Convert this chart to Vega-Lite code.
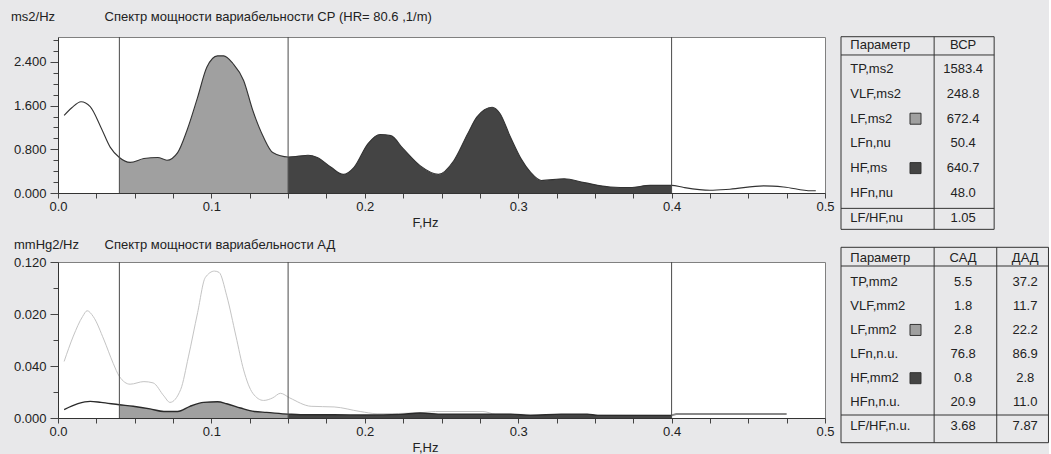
{
  "$schema": "https://vega.github.io/schema/vega-lite/v6.json",
  "background": "#e8e8ea",
  "padding": {"left": 10, "top": 10, "right": 0, "bottom": 0},
  "config": {
    "font": "Liberation Sans",
    "axis": {"labelFont": "Liberation Sans", "labelFontSize": 13, "labelColor": "#222", "titleFont": "Liberation Sans", "titleFontSize": 13, "titleFontWeight": "normal", "titleColor": "#222", "domainColor": "#333", "tickColor": "#444", "grid": false, "labelFlush": false},
    "text": {"font": "Liberation Sans", "fontSize": 13, "fill": "#222"}
  },
  "datasets": {
    "hrv": [
      {"f": 0.004, "v": 1.42, "b": "VLF"}, {"f": 0.009, "v": 1.56, "b": "VLF"}, {"f": 0.015, "v": 1.67, "b": "VLF"}, {"f": 0.021, "v": 1.58, "b": "VLF"}, {"f": 0.028, "v": 1.2, "b": "VLF"}, {"f": 0.034, "v": 0.84, "b": "VLF"}, {"f": 0.04, "v": 0.65, "b": "VLF"},
      {"f": 0.04, "v": 0.65, "b": "LF"}, {"f": 0.047, "v": 0.56, "b": "LF"}, {"f": 0.056, "v": 0.63, "b": "LF"}, {"f": 0.065, "v": 0.65, "b": "LF"}, {"f": 0.071, "v": 0.6, "b": "LF"}, {"f": 0.078, "v": 0.74, "b": "LF"}, {"f": 0.084, "v": 1.14, "b": "LF"}, {"f": 0.091, "v": 1.75, "b": "LF"}, {"f": 0.097, "v": 2.3, "b": "LF"}, {"f": 0.104, "v": 2.51, "b": "LF"}, {"f": 0.108, "v": 2.51, "b": "LF"}, {"f": 0.114, "v": 2.37, "b": "LF"}, {"f": 0.121, "v": 2.06, "b": "LF"}, {"f": 0.127, "v": 1.51, "b": "LF"}, {"f": 0.134, "v": 1.02, "b": "LF"}, {"f": 0.14, "v": 0.74, "b": "LF"}, {"f": 0.15, "v": 0.66, "b": "LF"},
      {"f": 0.15, "v": 0.66, "b": "HF"}, {"f": 0.156, "v": 0.67, "b": "HF"}, {"f": 0.163, "v": 0.69, "b": "HF"}, {"f": 0.169, "v": 0.65, "b": "HF"}, {"f": 0.178, "v": 0.47, "b": "HF"}, {"f": 0.186, "v": 0.34, "b": "HF"}, {"f": 0.193, "v": 0.47, "b": "HF"}, {"f": 0.202, "v": 0.9, "b": "HF"}, {"f": 0.21, "v": 1.07, "b": "HF"}, {"f": 0.217, "v": 1.05, "b": "HF"}, {"f": 0.225, "v": 0.81, "b": "HF"}, {"f": 0.236, "v": 0.5, "b": "HF"}, {"f": 0.248, "v": 0.34, "b": "HF"}, {"f": 0.258, "v": 0.59, "b": "HF"}, {"f": 0.267, "v": 1.08, "b": "HF"}, {"f": 0.273, "v": 1.39, "b": "HF"}, {"f": 0.283, "v": 1.57, "b": "HF"}, {"f": 0.288, "v": 1.46, "b": "HF"}, {"f": 0.295, "v": 1.02, "b": "HF"}, {"f": 0.302, "v": 0.62, "b": "HF"}, {"f": 0.308, "v": 0.38, "b": "HF"}, {"f": 0.315, "v": 0.23, "b": "HF"}, {"f": 0.33, "v": 0.26, "b": "HF"}, {"f": 0.343, "v": 0.19, "b": "HF"}, {"f": 0.36, "v": 0.11, "b": "HF"}, {"f": 0.373, "v": 0.1, "b": "HF"}, {"f": 0.386, "v": 0.14, "b": "HF"}, {"f": 0.4, "v": 0.14, "b": "HF"},
      {"f": 0.4, "v": 0.14, "b": "VHF"}, {"f": 0.408, "v": 0.1, "b": "VHF"}, {"f": 0.425, "v": 0.05, "b": "VHF"}, {"f": 0.438, "v": 0.07, "b": "VHF"}, {"f": 0.46, "v": 0.13, "b": "VHF"}, {"f": 0.473, "v": 0.11, "b": "VHF"}, {"f": 0.491, "v": 0.04, "b": "VHF"}, {"f": 0.494, "v": 0.04, "b": "VHF"}
    ],
    "sad": [
      {"f": 0.004, "v": 0.0064, "b": "VLF"}, {"f": 0.013, "v": 0.011, "b": "VLF"}, {"f": 0.021, "v": 0.0128, "b": "VLF"}, {"f": 0.028, "v": 0.012, "b": "VLF"}, {"f": 0.04, "v": 0.0102, "b": "VLF"},
      {"f": 0.04, "v": 0.0102, "b": "LF"}, {"f": 0.049, "v": 0.009, "b": "LF"}, {"f": 0.06, "v": 0.007, "b": "LF"}, {"f": 0.069, "v": 0.005, "b": "LF"}, {"f": 0.078, "v": 0.005, "b": "LF"}, {"f": 0.086, "v": 0.009, "b": "LF"}, {"f": 0.095, "v": 0.012, "b": "LF"}, {"f": 0.104, "v": 0.0125, "b": "LF"}, {"f": 0.11, "v": 0.011, "b": "LF"}, {"f": 0.119, "v": 0.0077, "b": "LF"}, {"f": 0.128, "v": 0.005, "b": "LF"}, {"f": 0.136, "v": 0.0043, "b": "LF"}, {"f": 0.15, "v": 0.003, "b": "LF"},
      {"f": 0.15, "v": 0.003, "b": "HF"}, {"f": 0.158, "v": 0.0025, "b": "HF"}, {"f": 0.18, "v": 0.0025, "b": "HF"}, {"f": 0.201, "v": 0.0023, "b": "HF"}, {"f": 0.223, "v": 0.0028, "b": "HF"}, {"f": 0.236, "v": 0.0038, "b": "HF"}, {"f": 0.251, "v": 0.003, "b": "HF"}, {"f": 0.295, "v": 0.003, "b": "HF"}, {"f": 0.308, "v": 0.002, "b": "HF"}, {"f": 0.328, "v": 0.003, "b": "HF"}, {"f": 0.345, "v": 0.003, "b": "HF"}, {"f": 0.352, "v": 0.002, "b": "HF"}, {"f": 0.4, "v": 0.002, "b": "HF"},
      {"f": 0.4, "v": 0.002, "b": "VHF"}, {"f": 0.403, "v": 0.003, "b": "VHF"}, {"f": 0.475, "v": 0.003, "b": "VHF"}
    ],
    "dad": [
      {"f": 0.004, "v": 0.0435}, {"f": 0.01, "v": 0.063}, {"f": 0.016, "v": 0.078}, {"f": 0.019, "v": 0.0825}, {"f": 0.023, "v": 0.078}, {"f": 0.03, "v": 0.06}, {"f": 0.036, "v": 0.042}, {"f": 0.04, "v": 0.032}, {"f": 0.047, "v": 0.026}, {"f": 0.056, "v": 0.028}, {"f": 0.062, "v": 0.027}, {"f": 0.069, "v": 0.017}, {"f": 0.073, "v": 0.012}, {"f": 0.08, "v": 0.022}, {"f": 0.085, "v": 0.047}, {"f": 0.091, "v": 0.081}, {"f": 0.096, "v": 0.108}, {"f": 0.102, "v": 0.113}, {"f": 0.105, "v": 0.112}, {"f": 0.11, "v": 0.094}, {"f": 0.116, "v": 0.063}, {"f": 0.121, "v": 0.037}, {"f": 0.127, "v": 0.019}, {"f": 0.134, "v": 0.0135}, {"f": 0.14, "v": 0.0155}, {"f": 0.145, "v": 0.019}, {"f": 0.151, "v": 0.0155}, {"f": 0.165, "v": 0.009}, {"f": 0.18, "v": 0.0085}, {"f": 0.197, "v": 0.005}, {"f": 0.208, "v": 0.0033}, {"f": 0.236, "v": 0.004}, {"f": 0.246, "v": 0.005}, {"f": 0.277, "v": 0.005}, {"f": 0.285, "v": 0.003}, {"f": 0.4, "v": 0.002}
    ],
    "bands": [{"f": 0.04}, {"f": 0.15}, {"f": 0.4}],
    "tblTop": [
      {"r": 0, "p": "Параметр", "a": "ВСР"},
      {"r": 1, "p": "TP,ms2", "a": "1583.4"},
      {"r": 2, "p": "VLF,ms2", "a": "248.8"},
      {"r": 3, "p": "LF,ms2", "a": "672.4", "m": "LF"},
      {"r": 4, "p": "LFn,nu", "a": "50.4"},
      {"r": 5, "p": "HF,ms", "a": "640.7", "m": "HF"},
      {"r": 6, "p": "HFn,nu", "a": "48.0"},
      {"r": 7, "p": "LF/HF,nu", "a": "1.05"}
    ],
    "tblBot": [
      {"r": 0, "p": "Параметр", "a": "САД", "d": "ДАД"},
      {"r": 1, "p": "TP,mm2", "a": "5.5", "d": "37.2"},
      {"r": 2, "p": "VLF,mm2", "a": "1.8", "d": "11.7"},
      {"r": 3, "p": "LF,mm2", "a": "2.8", "d": "22.2", "m": "LF"},
      {"r": 4, "p": "LFn,n.u.", "a": "76.8", "d": "86.9"},
      {"r": 5, "p": "HF,mm2", "a": "0.8", "d": "2.8", "m": "HF"},
      {"r": 6, "p": "HFn,n.u.", "a": "20.9", "d": "11.0"},
      {"r": 7, "p": "LF/HF,n.u.", "a": "3.68", "d": "7.87"}
    ]
  },
  "columns": 2,
  "bounds": "flush",
  "spacing": {"row": 69, "column": 16},
  "concat": [
    {
      "width": 767, "height": 156,
      "view": {"fill": "white", "stroke": "#808080"},
      "resolve": {"axis": {"x": "independent"}},
      "layer": [
        {
          "data": {"name": "hrv"},
          "transform": [{"filter": "datum.b == 'LF' || datum.b == 'HF'"}],
          "mark": {"type": "area", "interpolate": "monotone", "opacity": 1},
          "encoding": {
            "x": {"field": "f", "type": "quantitative", "scale": {"domain": [0, 0.5], "nice": false, "zero": false},
              "axis": {"title": "F,Hz", "values": [0, 0.025, 0.05, 0.075, 0.1, 0.125, 0.15, 0.175, 0.2, 0.225, 0.25, 0.275, 0.3, 0.325, 0.35, 0.375, 0.4, 0.425, 0.45, 0.475, 0.5], "labelExpr": "indexof([0, 0.1, 0.2, 0.3, 0.4, 0.5], datum.value) >= 0 ? format(datum.value, '.1f') : ''", "tickSize": 5, "labelPadding": 2, "titleX": 367, "titleY": 29.5, "titleAlign": "center", "titleBaseline": "middle", "titleAnchor": null}},
            "y": {"field": "v", "type": "quantitative", "stack": null, "scale": {"domain": [0, 2.855], "nice": false},
              "axis": {"title": "ms2/Hz", "values": [0, 0.2, 0.4, 0.6, 0.8, 1, 1.2, 1.4, 1.6, 1.8, 2, 2.2, 2.4, 2.6, 2.8], "labelExpr": "indexof([0, 0.8, 1.6, 2.4], datum.value) >= 0 ? format(datum.value, '.3f') : ''", "tickSize": {"condition": {"test": "indexof([0, 0.8, 1.6, 2.4], datum.value) >= 0", "value": 8}, "value": 5}, "labelPadding": 4, "titleAngle": 0, "titleX": -47.5, "titleY": -16.5, "titleAlign": "left", "titleBaseline": "alphabetic", "titleAnchor": null}},
            "color": {"field": "b", "type": "nominal", "scale": {"domain": ["LF", "HF"], "range": ["#a0a0a0", "#444444"]}, "legend": null}
          }
        },
        {
          "data": {"name": "hrv"},
          "mark": {"type": "line", "interpolate": "monotone", "color": "#333333", "strokeWidth": 1.1},
          "encoding": {
            "x": {"field": "f", "type": "quantitative", "axis": null},
            "y": {"field": "v", "type": "quantitative",
              "axis": {"title": "ms2/Hz", "values": [0, 0.2, 0.4, 0.6, 0.8, 1, 1.2, 1.4, 1.6, 1.8, 2, 2.2, 2.4, 2.6, 2.8], "labelExpr": "indexof([0, 0.8, 1.6, 2.4], datum.value) >= 0 ? format(datum.value, '.3f') : ''", "tickSize": {"condition": {"test": "indexof([0, 0.8, 1.6, 2.4], datum.value) >= 0", "value": 8}, "value": 5}, "labelPadding": 4, "titleAngle": 0, "titleX": -47.5, "titleY": -16.5, "titleAlign": "left", "titleBaseline": "alphabetic", "titleAnchor": null}}
          }
        },
        {
          "data": {"name": "bands"},
          "mark": {"type": "rule", "color": "#4a4a4a", "strokeWidth": 1},
          "encoding": {
            "x": {"field": "f", "type": "quantitative",
              "axis": {"orient": "top", "title": "Спектр мощности вариабельности СР (HR= 80.6 ,1/m)", "labels": false, "ticks": false, "domain": false, "titleX": 46, "titleY": -16.5, "titleAlign": "left", "titleBaseline": "alphabetic", "titleAnchor": null}}
          }
        }
      ]
    },
    {
      "width": 208, "height": 156,
      "view": {"stroke": null, "fill": null},
      "layer": [
        {
          "data": {"name": "tblTop"},
          "mark": {"type": "text", "align": "left", "baseline": "middle"},
          "encoding": {
            "x": {"datum": 0.18, "type": "quantitative", "scale": {"domain": [0, 4.02], "nice": false, "zero": false}, "axis": null},
            "y": {"field": "r", "type": "quantitative", "scale": {"domain": [-0.308, 6.008], "reverse": true, "nice": false, "zero": false}, "axis": null},
            "text": {"field": "p"}
          }
        },
        {
          "data": {"name": "tblTop"},
          "mark": {"type": "text", "align": "center", "baseline": "middle"},
          "encoding": {
            "x": {"datum": 2.36, "type": "quantitative"},
            "y": {"field": "r", "type": "quantitative"},
            "text": {"field": "a"}
          }
        },
        {
          "data": {"name": "tblTop"},
          "transform": [{"filter": "datum.m"}],
          "mark": {"type": "point", "shape": "square", "filled": true, "size": 121, "stroke": "#333", "strokeWidth": 1, "opacity": 1},
          "encoding": {
            "x": {"datum": 1.44, "type": "quantitative"},
            "y": {"field": "r", "type": "quantitative"},
            "color": {"field": "m", "type": "nominal", "scale": {"domain": ["LF", "HF"], "range": ["#8c8c8c", "#4a4a4a"]}, "legend": null}
          }
        },
        {
          "data": {"values": [{}]},
          "mark": {"type": "rect", "fillOpacity": 0, "stroke": "#333", "strokeWidth": 1},
          "encoding": {"x": {"datum": 0, "type": "quantitative"}, "x2": {"datum": 2.96}, "y": {"datum": -0.32, "type": "quantitative"}, "y2": {"datum": 7.48}}
        },
        {
          "data": {"values": [{}]},
          "mark": {"type": "rule", "color": "#333", "strokeWidth": 1},
          "encoding": {"x": {"datum": 1.8, "type": "quantitative"}, "y": {"datum": -0.32, "type": "quantitative"}, "y2": {"datum": 7.48}}
        },
        {
          "data": {"values": [{"k": 0.42}, {"k": 6.63}]},
          "mark": {"type": "rule", "color": "#333", "strokeWidth": 1},
          "encoding": {"x": {"datum": 0, "type": "quantitative"}, "x2": {"datum": 2.96}, "y": {"field": "k", "type": "quantitative"}}
        }
      ]
    },
    {
      "width": 767, "height": 156,
      "view": {"fill": "white", "stroke": "#808080"},
      "resolve": {"axis": {"x": "independent"}},
      "layer": [
        {
          "data": {"name": "dad"},
          "mark": {"type": "line", "interpolate": "monotone", "color": "#c4c4c4", "strokeWidth": 1},
          "encoding": {
            "x": {"field": "f", "type": "quantitative", "scale": {"domain": [0, 0.5], "nice": false, "zero": false},
              "axis": {"title": "F,Hz", "values": [0, 0.025, 0.05, 0.075, 0.1, 0.125, 0.15, 0.175, 0.2, 0.225, 0.25, 0.275, 0.3, 0.325, 0.35, 0.375, 0.4, 0.425, 0.45, 0.475, 0.5], "labelExpr": "indexof([0, 0.1, 0.2, 0.3, 0.4, 0.5], datum.value) >= 0 ? format(datum.value, '.1f') : ''", "tickSize": 5, "labelPadding": 2, "titleX": 367, "titleY": 29, "titleAlign": "center", "titleBaseline": "middle", "titleAnchor": null}},
            "y": {"field": "v", "type": "quantitative", "scale": {"domain": [0, 0.12], "nice": false},
              "axis": {"title": "mmHg2/Hz", "values": [0, 0.02, 0.04, 0.06, 0.08, 0.1, 0.12], "labelExpr": "datum.value == 0 ? '0.000' : datum.value == 0.04 ? '0.040' : datum.value == 0.08 ? '0.020' : datum.value == 0.12 ? '0.120' : ''", "tickSize": {"condition": {"test": "indexof([0, 0.04, 0.08, 0.12], datum.value) >= 0", "value": 8}, "value": 5}, "labelPadding": 4, "titleAngle": 0, "titleX": -44.5, "titleY": -13.5, "titleAlign": "left", "titleBaseline": "alphabetic", "titleAnchor": null}}
          }
        },
        {
          "data": {"name": "sad"},
          "transform": [{"filter": "datum.b == 'LF' || datum.b == 'HF'"}],
          "mark": {"type": "area", "interpolate": "monotone", "opacity": 1},
          "encoding": {
            "x": {"field": "f", "type": "quantitative", "axis": null},
            "y": {"field": "v", "type": "quantitative", "stack": null,
              "axis": {"title": "mmHg2/Hz", "values": [0, 0.02, 0.04, 0.06, 0.08, 0.1, 0.12], "labelExpr": "datum.value == 0 ? '0.000' : datum.value == 0.04 ? '0.040' : datum.value == 0.08 ? '0.020' : datum.value == 0.12 ? '0.120' : ''", "tickSize": {"condition": {"test": "indexof([0, 0.04, 0.08, 0.12], datum.value) >= 0", "value": 8}, "value": 5}, "labelPadding": 4, "titleAngle": 0, "titleX": -44.5, "titleY": -13.5, "titleAlign": "left", "titleBaseline": "alphabetic", "titleAnchor": null}},
            "color": {"field": "b", "type": "nominal", "scale": {"domain": ["LF", "HF"], "range": ["#909090", "#444444"]}, "legend": null}
          }
        },
        {
          "data": {"name": "sad"},
          "transform": [{"filter": "datum.b != 'VHF'"}],
          "mark": {"type": "line", "interpolate": "monotone", "color": "#2a2a2a", "strokeWidth": 1.4},
          "encoding": {
            "x": {"field": "f", "type": "quantitative", "axis": null},
            "y": {"field": "v", "type": "quantitative",
              "axis": {"title": "mmHg2/Hz", "values": [0, 0.02, 0.04, 0.06, 0.08, 0.1, 0.12], "labelExpr": "datum.value == 0 ? '0.000' : datum.value == 0.04 ? '0.040' : datum.value == 0.08 ? '0.020' : datum.value == 0.12 ? '0.120' : ''", "tickSize": {"condition": {"test": "indexof([0, 0.04, 0.08, 0.12], datum.value) >= 0", "value": 8}, "value": 5}, "labelPadding": 4, "titleAngle": 0, "titleX": -44.5, "titleY": -13.5, "titleAlign": "left", "titleBaseline": "alphabetic", "titleAnchor": null}}
          }
        },
        {
          "data": {"name": "sad"},
          "transform": [{"filter": "datum.b == 'VHF'"}],
          "mark": {"type": "line", "color": "#888888", "strokeWidth": 2},
          "encoding": {
            "x": {"field": "f", "type": "quantitative", "axis": null},
            "y": {"field": "v", "type": "quantitative",
              "axis": {"title": "mmHg2/Hz", "values": [0, 0.02, 0.04, 0.06, 0.08, 0.1, 0.12], "labelExpr": "datum.value == 0 ? '0.000' : datum.value == 0.04 ? '0.040' : datum.value == 0.08 ? '0.020' : datum.value == 0.12 ? '0.120' : ''", "tickSize": {"condition": {"test": "indexof([0, 0.04, 0.08, 0.12], datum.value) >= 0", "value": 8}, "value": 5}, "labelPadding": 4, "titleAngle": 0, "titleX": -44.5, "titleY": -13.5, "titleAlign": "left", "titleBaseline": "alphabetic", "titleAnchor": null}}
          }
        },
        {
          "data": {"name": "bands"},
          "mark": {"type": "rule", "color": "#4a4a4a", "strokeWidth": 1},
          "encoding": {
            "x": {"field": "f", "type": "quantitative",
              "axis": {"orient": "top", "title": "Спектр мощности вариабельности АД", "labels": false, "ticks": false, "domain": false, "titleX": 46, "titleY": -13.5, "titleAlign": "left", "titleBaseline": "alphabetic", "titleAnchor": null}}
          }
        }
      ]
    },
    {
      "width": 208, "height": 156,
      "view": {"stroke": null, "fill": null},
      "layer": [
        {
          "data": {"name": "tblBot"},
          "mark": {"type": "text", "align": "left", "baseline": "middle"},
          "encoding": {
            "x": {"datum": 0.18, "type": "quantitative", "scale": {"domain": [0, 4.02], "nice": false, "zero": false}, "axis": null},
            "y": {"field": "r", "type": "quantitative", "scale": {"domain": [0.183, 6.651], "reverse": true, "nice": false, "zero": false}, "axis": null},
            "text": {"field": "p"}
          }
        },
        {
          "data": {"name": "tblBot"},
          "mark": {"type": "text", "align": "center", "baseline": "middle"},
          "encoding": {
            "x": {"datum": 2.36, "type": "quantitative"},
            "y": {"field": "r", "type": "quantitative"},
            "text": {"field": "a"}
          }
        },
        {
          "data": {"name": "tblBot"},
          "mark": {"type": "text", "align": "center", "baseline": "middle"},
          "encoding": {
            "x": {"datum": 3.56, "type": "quantitative"},
            "y": {"field": "r", "type": "quantitative"},
            "text": {"field": "d"}
          }
        },
        {
          "data": {"name": "tblBot"},
          "transform": [{"filter": "datum.m"}],
          "mark": {"type": "point", "shape": "square", "filled": true, "size": 121, "stroke": "#333", "strokeWidth": 1, "opacity": 1},
          "encoding": {
            "x": {"datum": 1.44, "type": "quantitative"},
            "y": {"field": "r", "type": "quantitative"},
            "color": {"field": "m", "type": "nominal", "scale": {"domain": ["LF", "HF"], "range": ["#8c8c8c", "#4a4a4a"]}, "legend": null}
          }
        },
        {
          "data": {"values": [{}]},
          "mark": {"type": "rect", "fillOpacity": 0, "stroke": "#333", "strokeWidth": 1},
          "encoding": {"x": {"datum": 0, "type": "quantitative"}, "x2": {"datum": 4.01}, "y": {"datum": -0.426, "type": "quantitative"}, "y2": {"datum": 7.675}}
        },
        {
          "data": {"values": [{"c": 1.8}, {"c": 3.01}]},
          "mark": {"type": "rule", "color": "#333", "strokeWidth": 1},
          "encoding": {"x": {"field": "c", "type": "quantitative"}, "y": {"datum": -0.426, "type": "quantitative"}, "y2": {"datum": 7.675}}
        },
        {
          "data": {"values": [{"k": 0.349}, {"k": 6.527}]},
          "mark": {"type": "rule", "color": "#333", "strokeWidth": 1},
          "encoding": {"x": {"datum": 0, "type": "quantitative"}, "x2": {"datum": 4.01}, "y": {"field": "k", "type": "quantitative"}}
        }
      ]
    }
  ]
}
